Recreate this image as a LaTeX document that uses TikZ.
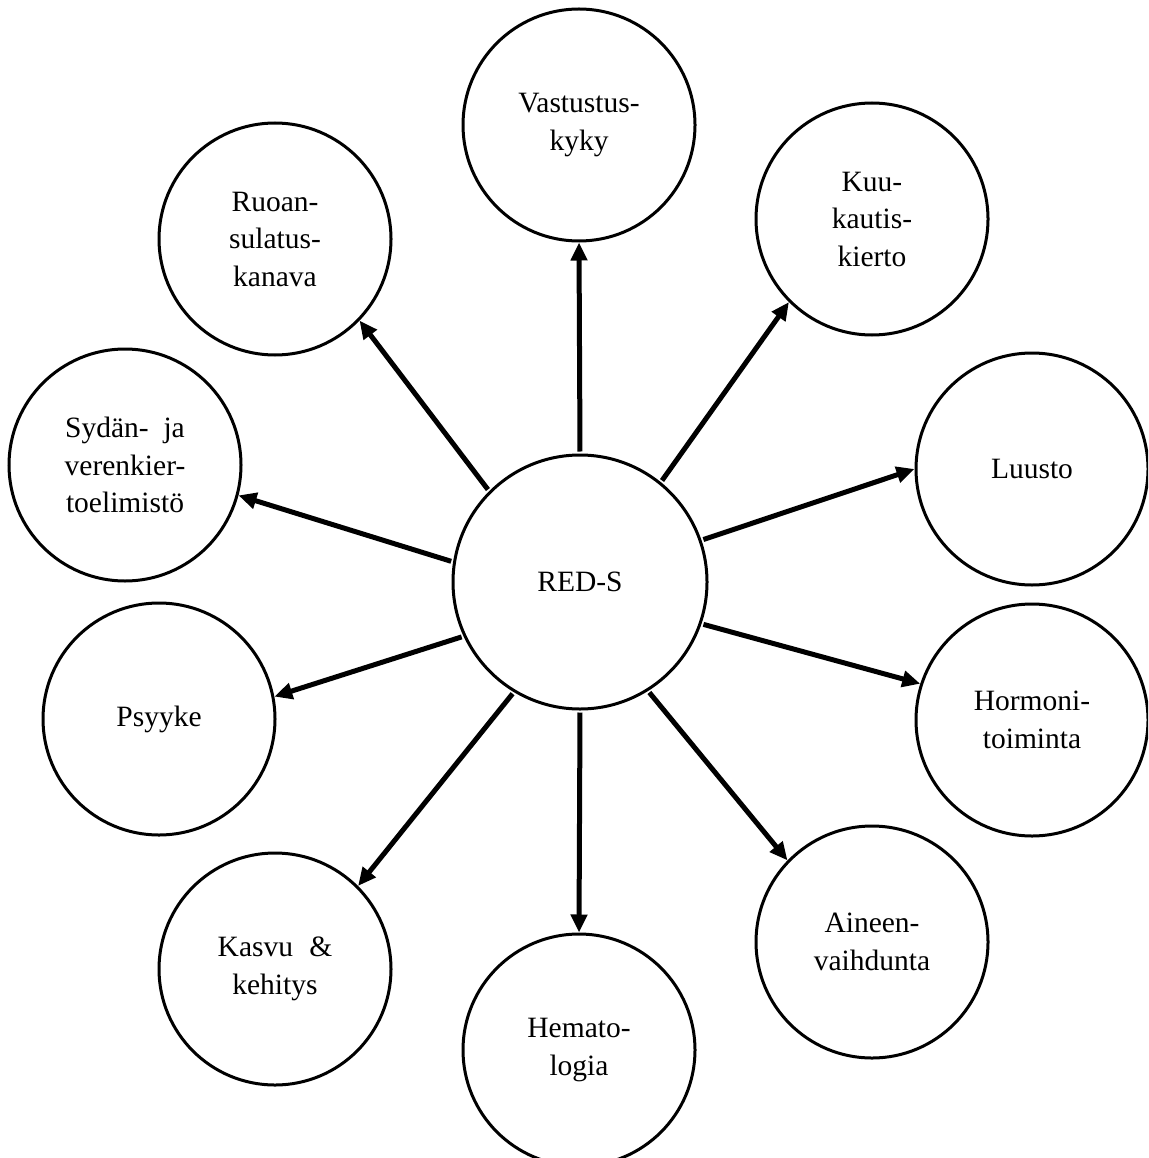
\documentclass[tikz,border=0pt]{standalone}
\usepackage{fontspec}
\setmainfont{Liberation Serif}
\usetikzlibrary{arrows.meta}
\tikzset{
  topic/.style={circle, draw, line width=3pt, minimum size=232pt, inner sep=0pt,
    align=center, font=\fontsize{29.5}{37.5}\selectfont},
  hub/.style={topic, minimum size=254pt},
  link/.style={line width=5pt, -{Triangle[length=18pt,width=16pt]}, shorten <=2pt}
}
\begin{document}
\begin{tikzpicture}[x=1pt,y=-1pt]
\useasboundingbox (0,0) rectangle (1148,1158);
\clip (0,0) rectangle (1148,1158);
\node[hub] (c) at (580,582) {RED-S};
\node[topic] (v) at (579,125) {Vastustus-\\kyky};
\node[topic] (k) at (872,219) {Kuu-\\kautis-\\kierto};
\node[topic] (l) at (1032,469) {Luusto};
\node[topic] (h) at (1032,720) {Hormoni-\\toiminta};
\node[topic] (a) at (872,942) {Aineen-\\vaihdunta};
\node[topic] (m) at (579,1050) {Hemato-\\logia};
\node[topic] (g) at (275,969) {Kasvu\hspace{0.55em}\&\\kehitys};
\node[topic] (p) at (159,719) {Psyyke};
\node[topic] (s) at (125,465) {Sydän-\hspace{0.5em}ja\\verenkier-\\toelimistö};
\node[topic] (r) at (275,239) {Ruoan-\\sulatus-\\kanava};
\draw[link] (c.90) -- (v.270);
\draw[link] (c.51) -- (k.225);
\draw[link] (c.19) -- (l.180);
\draw[link] (c.-19) -- (h.162);
\draw[link] (c.-58) -- (a.136);
\draw[link] (c.270) -- (m.90);
\draw[link] (c.-121) -- (g.45);
\draw[link] (c.205.6) -- (p.11);
\draw[link] (c.171.6) -- (s.-15.3);
\draw[link] (c.135.6) -- (r.-44.7);
\end{tikzpicture}
\end{document}
